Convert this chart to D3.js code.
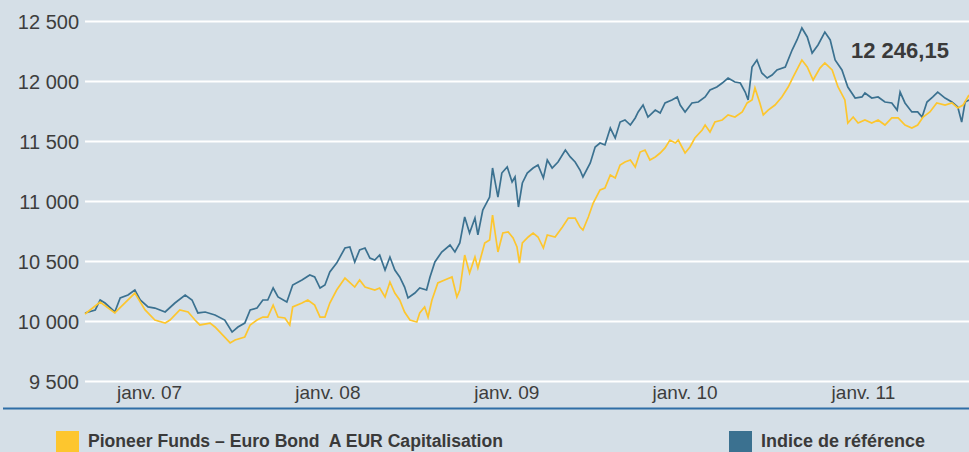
<!DOCTYPE html>
<html lang="fr">
<head>
<meta charset="UTF-8">
<title>Pioneer Funds - Euro Bond</title>
<style>
    body { margin: 0; background: #d5dfe7; }
    svg { display: block; background: #d5dfe7; }
    .tick text { fill: #3d3d3d; font-family: "Liberation Sans", Arial, sans-serif; }
    .legend { font-family: "Liberation Sans", Arial, sans-serif; font-weight: bold; fill: #3a3a3a; }
</style>
</head>
<body>
<svg id="chart"></svg>
<script src="https://d3js.org/d3.v7.min.js"></script>
<script>
    // index reference (blue)
    var indexDates = ["2006-08-23","2006-09-13","2006-09-23","2006-10-03","2006-10-23","2006-11-03","2006-11-19","2006-12-03","2006-12-14","2006-12-30",
        "2007-01-13","2007-02-03","2007-02-23","2007-03-16","2007-03-30","2007-04-11","2007-04-26","2007-05-16","2007-06-05","2007-06-20",
        "2007-07-02","2007-07-16","2007-07-27","2007-08-10","2007-08-22","2007-09-01","2007-09-12","2007-09-22","2007-10-10","2007-10-22",
        "2007-11-10","2007-11-26","2007-12-06","2007-12-17","2007-12-27","2008-01-06","2008-01-20","2008-02-06","2008-02-16","2008-02-26",
        "2008-03-07","2008-03-18","2008-03-28","2008-04-07","2008-04-17","2008-04-28","2008-05-08","2008-05-18","2008-05-28","2008-06-07",
        "2008-06-14","2008-06-28","2008-07-08","2008-07-22","2008-07-29","2008-08-08","2008-08-22","2008-09-08","2008-09-18","2008-09-28",
        "2008-10-08","2008-10-18","2008-10-29","2008-11-04","2008-11-14","2008-11-28","2008-12-04","2008-12-15","2008-12-23","2009-01-03",
        "2009-01-13","2009-01-19","2009-01-26","2009-02-03","2009-02-13","2009-02-25","2009-03-07","2009-03-18","2009-03-26","2009-04-05",
        "2009-04-17","2009-05-02","2009-05-12","2009-05-22","2009-06-01","2009-06-07","2009-06-22","2009-07-02","2009-07-12","2009-07-22",
        "2009-08-02","2009-08-12","2009-08-22","2009-09-01","2009-09-12","2009-09-22","2009-09-28","2009-10-08","2009-10-18","2009-11-02",
        "2009-11-12","2009-11-22","2009-12-06","2009-12-17","2009-12-23","2010-01-02","2010-01-16","2010-01-29","2010-02-12","2010-02-22",
        "2010-03-08","2010-03-19","2010-03-31","2010-04-14","2010-04-25","2010-05-05","2010-05-11","2010-05-19","2010-05-29","2010-06-08",
        "2010-06-19","2010-06-29","2010-07-09","2010-07-26","2010-08-09","2010-08-19","2010-08-29","2010-09-09","2010-09-19","2010-10-01",
        "2010-10-15","2010-10-26","2010-11-05","2010-11-19","2010-12-01","2010-12-16","2010-12-30","2011-01-05","2011-01-19","2011-02-01",
        "2011-02-15","2011-03-01","2011-03-12","2011-03-18","2011-03-28","2011-04-11","2011-04-23","2011-05-02","2011-05-12","2011-05-24",
        "2011-06-03","2011-06-18","2011-07-02","2011-07-14","2011-07-22","2011-07-29","2011-08-06"];
    var indexValues = [10067,10092,10175,10150,10075,10192,10217,10258,10175,10117,
        10108,10075,10150,10217,10175,10067,10075,10050,10008,9908,
        9950,9983,10092,10108,10175,10175,10275,10200,10158,10300,
        10342,10383,10367,10275,10300,10408,10483,10608,10617,10492,
        10592,10608,10525,10508,10550,10425,10533,10425,10367,10283,
        10192,10233,10275,10258,10367,10492,10575,10633,10575,10650,
        10867,10733,10858,10717,10925,11033,11275,11033,11233,11283,
        11158,11200,10950,11150,11233,11275,11300,11192,11342,11275,
        11325,11425,11367,11325,11258,11200,11317,11450,11483,11467,
        11608,11525,11658,11675,11633,11692,11742,11800,11700,11758,
        11733,11817,11842,11867,11800,11742,11817,11825,11867,11925,
        11950,11983,12025,11992,11983,11908,11842,12117,12175,12067,
        12025,12050,12092,12117,12258,12342,12442,12367,12233,12300,
        12408,12342,12175,12092,11950,11858,11867,11900,11858,11867,
        11825,11817,11758,11908,11817,11742,11742,11700,11825,11867,
        11908,11858,11825,11783,11658,11825,11842];

    // fund (yellow)
    var fundDates = ["2006-08-23","2006-09-23","2006-10-23","2006-12-03","2006-12-24","2007-01-13","2007-02-03","2007-02-13","2007-03-05","2007-03-22",
        "2007-04-05","2007-04-15","2007-05-06","2007-05-16","2007-06-16","2007-06-26","2007-07-16","2007-07-27","2007-08-10","2007-08-22",
        "2007-09-01","2007-09-12","2007-09-22","2007-10-06","2007-10-16","2007-10-22","2007-11-10","2007-11-22","2007-12-06","2007-12-17",
        "2007-12-27","2008-01-06","2008-01-20","2008-02-06","2008-02-26","2008-03-07","2008-03-18","2008-04-07","2008-04-17","2008-04-28",
        "2008-05-08","2008-05-18","2008-05-28","2008-06-07","2008-06-18","2008-07-02","2008-07-08","2008-07-18","2008-07-25","2008-08-02",
        "2008-08-14","2008-08-28","2008-09-12","2008-09-22","2008-09-28","2008-10-08","2008-10-18","2008-10-29","2008-11-04","2008-11-18",
        "2008-11-28","2008-12-04","2008-12-15","2008-12-25","2009-01-05","2009-01-15","2009-01-23","2009-01-28","2009-02-03","2009-02-15",
        "2009-02-25","2009-03-07","2009-03-18","2009-03-26","2009-04-11","2009-04-26","2009-05-08","2009-05-22","2009-06-01","2009-06-07",
        "2009-06-18","2009-06-28","2009-07-12","2009-07-22","2009-08-02","2009-08-12","2009-08-22","2009-09-01","2009-09-12","2009-09-22",
        "2009-10-02","2009-10-12","2009-10-22","2009-11-02","2009-11-12","2009-11-22","2009-12-02","2009-12-13","2009-12-19","2010-01-02",
        "2010-01-12","2010-01-22","2010-02-06","2010-02-12","2010-02-22","2010-03-04","2010-03-19","2010-03-31","2010-04-14","2010-04-29",
        "2010-05-09","2010-05-19","2010-05-25","2010-06-04","2010-06-11","2010-06-21","2010-07-05","2010-07-19","2010-08-01","2010-08-11",
        "2010-08-29","2010-09-09","2010-09-21","2010-10-05","2010-10-15","2010-10-30","2010-11-11","2010-11-25","2010-12-01","2010-12-12",
        "2010-12-22","2011-01-05","2011-01-19","2011-02-01","2011-02-15","2011-03-01","2011-03-14","2011-03-28","2011-04-11","2011-04-23",
        "2011-05-04","2011-05-18","2011-06-01","2011-06-18","2011-07-02","2011-07-14","2011-07-25","2011-08-06"];
    var fundValues = [10058,10158,10067,10233,10092,10008,9983,10008,10092,10075,
        10008,9967,9983,9950,9817,9842,9867,9967,10008,10033,
        10033,10133,10033,10025,9967,10117,10150,10175,10133,10033,
        10033,10150,10258,10358,10283,10342,10283,10258,10275,10200,
        10325,10233,10175,10075,10008,9992,10067,10117,10033,10175,
        10317,10342,10367,10200,10258,10550,10400,10533,10442,10650,
        10675,10883,10575,10733,10742,10692,10617,10483,10650,10700,
        10733,10700,10608,10717,10700,10783,10858,10858,10783,10758,
        10867,10983,11092,11108,11217,11192,11300,11325,11342,11283,
        11408,11425,11342,11367,11400,11442,11508,11483,11508,11400,
        11450,11525,11592,11633,11575,11658,11675,11717,11700,11742,
        11817,11842,11942,11817,11717,11758,11800,11867,11950,12033,
        12175,12117,12008,12108,12150,12092,11950,11842,11650,11700,
        11650,11675,11650,11675,11633,11692,11692,11633,11608,11633,
        11700,11742,11817,11800,11817,11775,11800,11883];

    var yTicks = [9500, 10000, 10500, 11000, 11500, 12000, 12500];
    var xTickDates = ["2007-01-01", "2008-01-01", "2009-01-01", "2010-01-01", "2011-01-01"];
    var xTickLabels = ["janv. 07", "janv. 08", "janv. 09", "janv. 10", "janv. 11"];
    var seriesNames = ["Pioneer Funds \u2013 Euro Bond\u00a0 A EUR Capitalisation", "Indice de r\u00e9f\u00e9rence"];
    var annotation = "12 246,15";

    var svgWidth = 969, svgHeight = 452
    var parse = d3.timeParse("%Y-%m-%d")
    var fr = d3.formatLocale({decimal: ",", thousands: "\u00a0", grouping: [3], currency: ["", " €"]})
    var fmt = fr.format(",")

    var svg = d3.select('#chart')
        .attr('width', svgWidth)
        .attr('height', svgHeight)

    var xScale = d3.scaleTime()
        .domain([parse(indexDates[0]), parse(indexDates[indexDates.length - 1])])
        .range([85, 969])

    var yScale = d3.scaleLinear()
        .domain([9500, 12500])
        .range([381, 21])

    // grid + y labels
    var yAxis = svg.append('g')
        .attr('transform', 'translate(85,0)')
        .call(d3.axisLeft(yScale).tickValues(yTicks).tickFormat(fmt).tickSize(-884).tickPadding(6))
    yAxis.select('.domain').remove()
    yAxis.selectAll('line').attr('stroke', '#ffffff').attr('stroke-width', 2)
    yAxis.selectAll('text').attr('font-size', 20).attr('dy', '0.36em')

    // x labels
    var xAxis = svg.append('g')
        .attr('transform', 'translate(0,384)')
        .call(d3.axisBottom(xScale)
            .tickValues(xTickDates.map(parse))
            .tickFormat(function (d, i) { return xTickLabels[i] })
            .tickSize(0).tickPadding(0))
    xAxis.select('.domain').remove()
    xAxis.selectAll('text').attr('font-size', 19).attr('dy', '0.8em')

    // bottom rule
    svg.append('line')
        .attr('x1', 3).attr('x2', 969)
        .attr('y1', 408.5).attr('y2', 408.5)
        .attr('stroke', '#2f6ea6').attr('stroke-width', 2)

    var line = d3.line()
        .x(function (d) { return xScale(d[0]) })
        .y(function (d) { return yScale(d[1]) })

    var indexData = indexDates.map(function (d, i) { return [parse(d), indexValues[i]] })
    var fundData = fundDates.map(function (d, i) { return [parse(d), fundValues[i]] })

    svg.append('path')
        .datum(indexData)
        .attr('d', line)
        .attr('fill', 'none')
        .attr('stroke', '#3b7190')
        .attr('stroke-width', 1.7)

    svg.append('path')
        .datum(fundData)
        .attr('d', line)
        .attr('fill', 'none')
        .attr('stroke', '#fdc62e')
        .attr('stroke-width', 1.7)

    svg.append('text')
        .attr('x', 851).attr('y', 58)
        .attr('font-family', '"Liberation Sans", Arial, sans-serif')
        .attr('font-weight', 'bold')
        .attr('font-size', 22)
        .attr('fill', '#3a3a3a')
        .text(annotation)

    // legend
    var legendX = [56, 729], legendColors = ['#fdc62e', '#3b7190'], legendWidths = [415, 164]
    var legend = svg.selectAll('.leg')
        .data(seriesNames)
        .enter()
        .append('g')
        .attr('transform', function (d, i) { return 'translate(' + legendX[i] + ',431)' })
    legend.append('rect')
        .attr('width', 23).attr('height', 23)
        .attr('fill', function (d, i) { return legendColors[i] })
    legend.append('text')
        .attr('class', 'legend')
        .attr('x', 32).attr('y', 16)
        .attr('font-size', 18)
        .attr('textLength', function (d, i) { return legendWidths[i] })
        .attr('lengthAdjust', 'spacingAndGlyphs')
        .text(function (d) { return d })
</script>
</body>
</html>
